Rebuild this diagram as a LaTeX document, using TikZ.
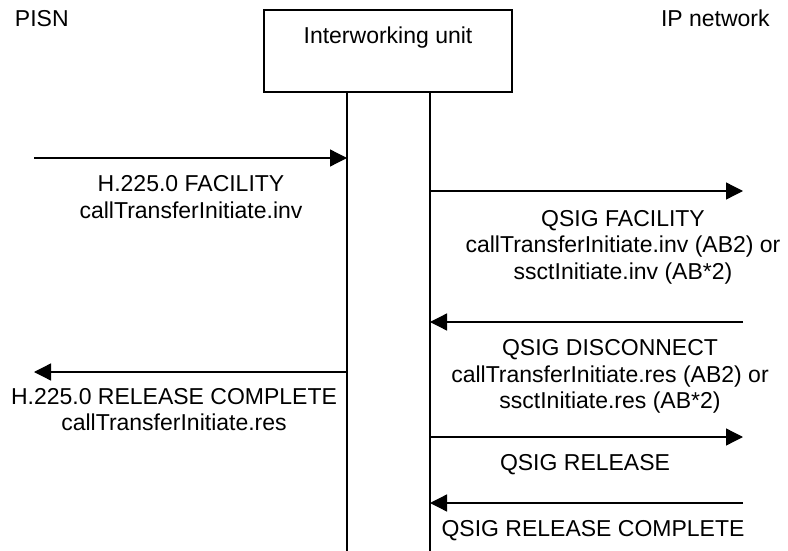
\documentclass[tikz,border=0pt]{standalone}
\usepackage{fontspec}
\setmainfont{Liberation Sans}
\usetikzlibrary{arrows.meta}
\begin{document}
\begin{tikzpicture}[x=1pt,y=-1pt,
  every node/.style={inner sep=0pt, outer sep=0pt, font=\fontsize{23}{26.5}\selectfont},
  msg/.style={-{Triangle[length=17pt,width=17pt]}, line width=1.3pt},
  lbl/.style={anchor=north, align=center},
  lifeline/.style={line width=1.3pt}]
\useasboundingbox (0,0) rectangle (788,551);
% entities
\node[anchor=base west] (pisn) at (15,26.5) {PISN};
\node[anchor=base west] (ipnet) at (661,26.5) {IP network};
\node[draw, line width=1.3pt, minimum width=248pt, minimum height=82pt, anchor=north west] (iwu) at (264,10) {};
\node[anchor=base] (iwutext) at (388,44) {Interworking unit};
% lifelines
\coordinate (l1top) at (347,92);
\coordinate (l1bot) at (347,551);
\coordinate (l2top) at (430,92);
\coordinate (l2bot) at (430,551);
\draw[lifeline] (l1top) -- (l1bot);
\draw[lifeline] (l2top) -- (l2bot);
% message end points
\coordinate (m1a) at (34,158);   \coordinate (m1b) at (347,158);
\coordinate (m2a) at (430,191);  \coordinate (m2b) at (743,191);
\coordinate (m3a) at (743,322);  \coordinate (m3b) at (430,322);
\coordinate (m6a) at (347,372);  \coordinate (m6b) at (34,372);
\coordinate (m4a) at (430,437);  \coordinate (m4b) at (743,437);
\coordinate (m5a) at (743,503);  \coordinate (m5b) at (430,503);
\draw[msg] (m1a) -- (m1b);
\draw[msg] (m2a) -- (m2b);
\draw[msg] (m3a) -- (m3b);
\draw[msg] (m6a) -- (m6b);
\draw[msg] (m4a) -- (m4b);
\draw[msg] (m5a) -- (m5b);
% labels
\node[lbl] (t1) at (191,175.8) {H.225.0 FACILITY\\callTransferInitiate.inv};
\node[lbl] (t2) at (623,210.3) {QSIG FACILITY\\callTransferInitiate.inv (AB2) or\\ssctInitiate.inv (AB*2)};
\node[lbl] (t3) at (610,339.8) {QSIG DISCONNECT\\callTransferInitiate.res (AB2) or\\ssctInitiate.res (AB*2)};
\node[lbl] (t6) at (174,388.3) {H.225.0 RELEASE COMPLETE\\callTransferInitiate.res};
\node[anchor=base] (t4) at (585,470.5) {QSIG RELEASE};
\node[anchor=base] (t5) at (593,536.5) {QSIG RELEASE COMPLETE};
\end{tikzpicture}
\end{document}
